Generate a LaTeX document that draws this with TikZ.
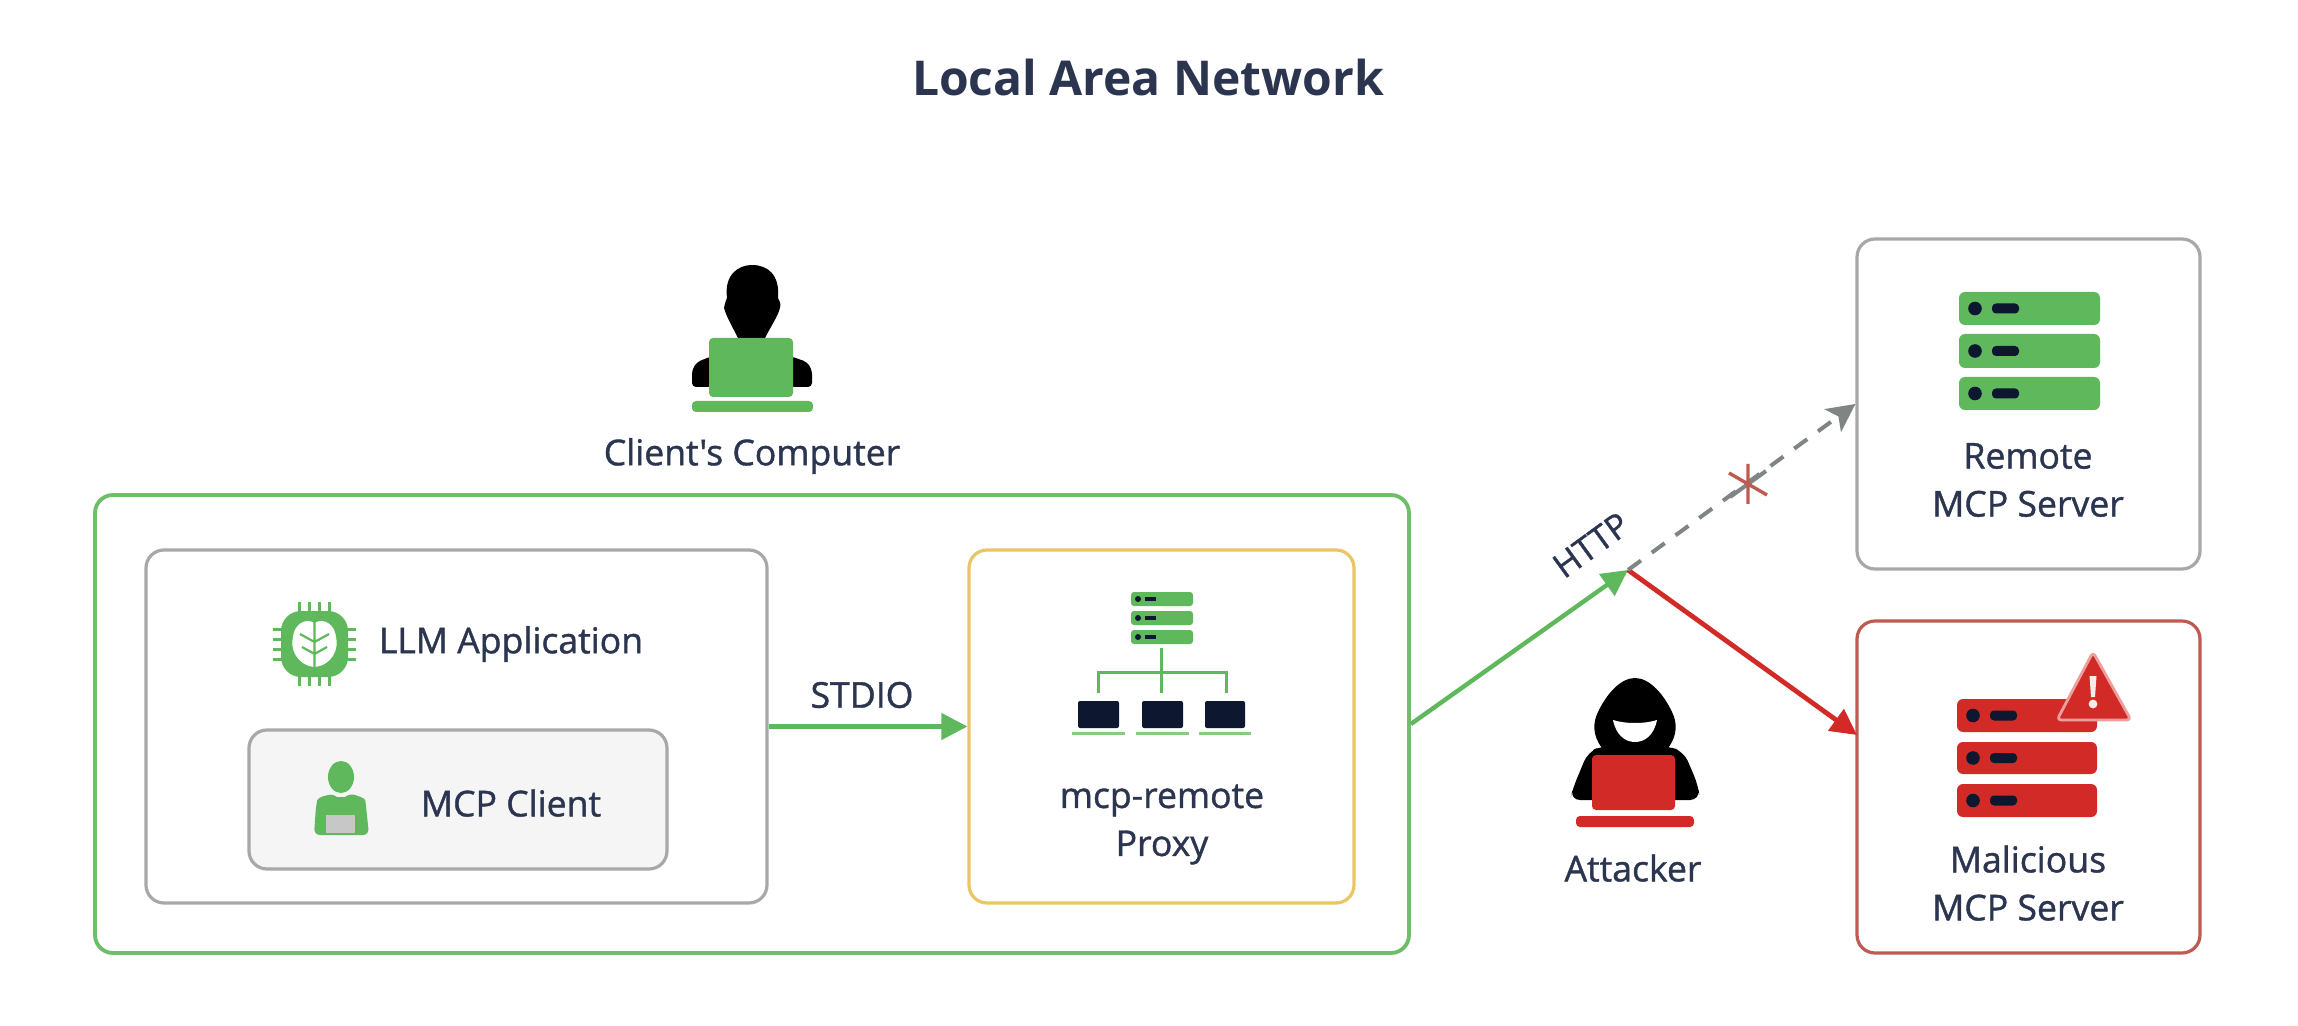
\documentclass[tikz,border=0pt]{standalone}
\usepackage{fontspec}
\setmainfont{Open Sans}
\newfontfamily\semi{Open Sans}[FakeBold=1.1]
\usetikzlibrary{arrows.meta,calc}
\definecolor{ink}{HTML}{2B3550}
\definecolor{grn}{HTML}{5FB85B}
\definecolor{grnline}{HTML}{6DBE69}
\definecolor{grayb}{HTML}{A8A8A8}
\definecolor{yel}{HTML}{E9C663}
\definecolor{redd}{HTML}{D22B27}
\definecolor{redb}{HTML}{BE5A50}
\definecolor{arrowgray}{HTML}{7F8585}
\definecolor{navy}{HTML}{0D1730}
\tikzset{
  frame/.style={draw,rounded corners=9pt,line width=1.6pt,inner sep=0pt,fill=white,anchor=center},
  lbl/.style={text=ink,font=\semi\fontsize{17.8}{24}\selectfont,align=center,inner sep=0pt},
  flow/.style={line width=2.2pt,-{Triangle[length=13pt,width=13pt]}},
  srow/.style={rounded corners=3pt},
}
\newcommand{\srvrow}[6]{% x1,y1,x2,y2,fill,dot
  \fill[#5,srow] (#1,#2) rectangle (#3,#4);
  \fill[#6] ({#1+16},{(#2+#4)/2}) circle (3.4pt);
  \fill[#6,rounded corners=2pt] ({#1+33},{(#2+#4)/2-5}) rectangle ({#1+60},{(#2+#4)/2+5});
}
\begin{document}
\begin{tikzpicture}[x=0.5pt,y=-0.5pt]
\useasboundingbox (0,0) rectangle (2298,1026);
\fill[white] (0,0) rectangle (2298,1026);

% frames
\node[frame,draw=grnline,line width=1.9pt,minimum width=657pt,minimum height=229pt] (lan) at (752,724) {};
\node[frame,draw=grayb,minimum width=310.5pt,minimum height=176.5pt] (app) at (456.5,726.5) {};
\node[frame,draw=grayb,fill=black!4,minimum width=209pt,minimum height=69.5pt] (client) at (458,799.5) {};
\node[frame,draw=yel,minimum width=192.5pt,minimum height=176.5pt] (proxy) at (1161.5,726.5) {};
\node[frame,draw=grayb,minimum width=171.5pt,minimum height=165pt] (remote) at (2028.5,404) {};
\node[frame,draw=redb,minimum width=171.5pt,minimum height=166pt] (malicious) at (2028.5,787) {};

% texts
\node[lbl,font=\bfseries\fontsize{24}{28}\selectfont] (title) at (1148,78) {Local Area Network};
\node[lbl] (clabel) at (752,456) {Client\symbol{39}s Computer};
\node[lbl] (llm) at (511,644) {LLM Application};
\node[lbl] (mcpc) at (511,803) {MCP Client};
\node[lbl] (stdio) at (862,695) {STDIO};
\node[lbl] (proxylabel) at (1162,824.5) {mcp-remote\\Proxy};
\node[lbl] (attacker) at (1633,868) {Attacker};
\node[lbl] (remotelabel) at (2028,480) {Remote\\MCP Server};
\node[lbl] (mallabel) at (2028,883) {Malicious\\MCP Server};

% connectors
\coordinate (hub) at (1628,570);
\coordinate (malin) at (1857,735);
\draw[flow,draw=grn,color=grn] (app.east) -- (proxy.west);
\draw[flow,draw=grn,color=grn] (lan.east) -- (hub);
\draw[flow,draw=redd,color=redd,line width=2.4pt] (hub) -- (malin);
\draw[line width=2pt,draw=arrowgray,dash pattern=on 8pt off 6.7pt,-{Stealth[length=14pt,width=14pt,inset=3.5pt]},color=arrowgray] (hub) -- (remote.west);
\node[lbl,rotate=36,font=\semi\fontsize{17}{18}\selectfont] (http) at (1591,545) {HTTP};
\coordinate (cross) at (1748,484);
\draw[arrowgray,line width=2pt] ($(cross)+(-18,13)$) -- ($(cross)+(18,-13)$);
\draw[redb,line width=1.7pt] ($(cross)+(0,-20)$) -- ($(cross)+(0,20)$) ($(cross)+(-19,-11)$) -- ($(cross)+(19,11)$);

% client's computer person
\fill[black] (738,338) .. controls (732,326) and (727,318) .. (724,308) .. controls (725,303) and (726,300) .. (727,298) .. controls (724,275) and (738,265) .. (752,265) .. controls (768,265) and (780,275) .. (778,298) .. controls (780,301) and (781,304) .. (780,308) .. controls (777,318) and (771,326) .. (765,338) -- cycle;
\fill[black,rounded corners=2pt] (692,387) -- (692,370) -- (697,362) -- (712,356) -- (712,387) -- cycle;
\fill[black,rounded corners=2pt] (812,387) -- (812,370) -- (807,362) -- (790,356) -- (790,387) -- cycle;
\fill[grn,rounded corners=2pt] (709,338) rectangle (793,397);
\fill[grn,rounded corners=2pt] (692,401) rectangle (813,412);

% LLM chip icon
\foreach \d in {-15,-5,5,15}{
  \draw[grn,line width=1.5pt] ({314.5+\d},602) -- ({314.5+\d},686);
  \draw[grn,line width=1.5pt] (273,{644+\d}) -- (356,{644+\d});
}
\fill[grn,rounded corners=10pt] (281,611) rectangle (348,677);
\fill[white] (314.5,623) .. controls (305,617) and (294,625) .. (293,637) .. controls (290,648) and (296,665) .. (314.5,667) .. controls (333,665) and (339,648) .. (336,637) .. controls (335,625) and (324,617) .. (314.5,623) -- cycle;
\draw[grn,line width=1.1pt] (314.5,622) -- (314.5,667) (314.5,642) -- (300,634) (314.5,642) -- (329,634) (314.5,654) -- (302,647) (314.5,654) -- (327,647);

% MCP client icon
\fill[grn] (341,777) ellipse (6.5pt and 8pt);
\fill[grn,rounded corners=3pt] (314,835) -- (316,806) .. controls (318,797) and (328,795) .. (333,793) .. controls (337,797) and (345,797) .. (349,793) .. controls (355,795) and (365,798) .. (366,806) -- (369,835) -- cycle;
\fill[black!22] (326,815) rectangle (355,833);

% proxy icon
\foreach \a/\b in {592/606,611/625,630/644}{
  \fill[grn,rounded corners=1.5pt] (1131,\a) rectangle (1193,\b);
  \fill[navy] (1138,{(\a+\b)/2}) circle (1.5pt);
  \fill[navy] (1145,{(\a+\b)/2-2}) rectangle (1156,{(\a+\b)/2+2});
}
\draw[grn,line width=1.5pt] (1161,648) -- (1161,693) (1098,693) -- (1098,672) -- (1226,672) -- (1226,693);
\foreach \a/\b in {1078/1119,1142/1183,1205/1245}{
  \fill[navy,rounded corners=1pt] (\a,701) rectangle (\b,728);
  \fill[grn!75] ({\a-6},732) rectangle ({\b+6},734.5);
}

% attacker
\fill[black,rounded corners=5pt] (1570,800) -- (1573,788) -- (1588,752) -- (1602,746) -- (1668,746) -- (1684,752) -- (1698,785) -- (1700,800) -- cycle;
\fill[black] (1602,748) .. controls (1592,735) and (1593,722) .. (1598,712) .. controls (1606,695) and (1620,678) .. (1635,678) .. controls (1650,678) and (1664,695) .. (1672,712) .. controls (1677,722) and (1678,735) .. (1668,748) -- cycle;
\fill[white] (1613,720) .. controls (1625,724) and (1645,724) .. (1657,720) .. controls (1654,735) and (1645,742) .. (1635,742) .. controls (1625,742) and (1616,735) .. (1613,720) -- cycle;
\fill[redd,rounded corners=2pt] (1592,755) rectangle (1675,810);
\fill[redd,rounded corners=2pt] (1576,816) rectangle (1694,827);

% remote server icon
\srvrow{1959}{292}{2100}{325}{grn}{navy}
\srvrow{1959}{334}{2100}{368}{grn}{navy}
\srvrow{1959}{377}{2100}{410}{grn}{navy}

% malicious server icon
\srvrow{1957}{699}{2097}{732}{redd}{navy}
\srvrow{1957}{742}{2097}{774}{redd}{navy}
\srvrow{1957}{784}{2097}{817}{redd}{navy}
\fill[redd,draw=redd!45,line width=1.4pt,line join=round,rounded corners=2pt] (2093,652) -- (2131,720) -- (2057,720) -- cycle;
\fill[white!90!redd] (2089.5,676) -- (2096.5,676) -- (2095,697) -- (2091,697) -- cycle;
\fill[white!90!redd] (2093,704) circle (2.2pt);
\end{tikzpicture}
\end{document}
